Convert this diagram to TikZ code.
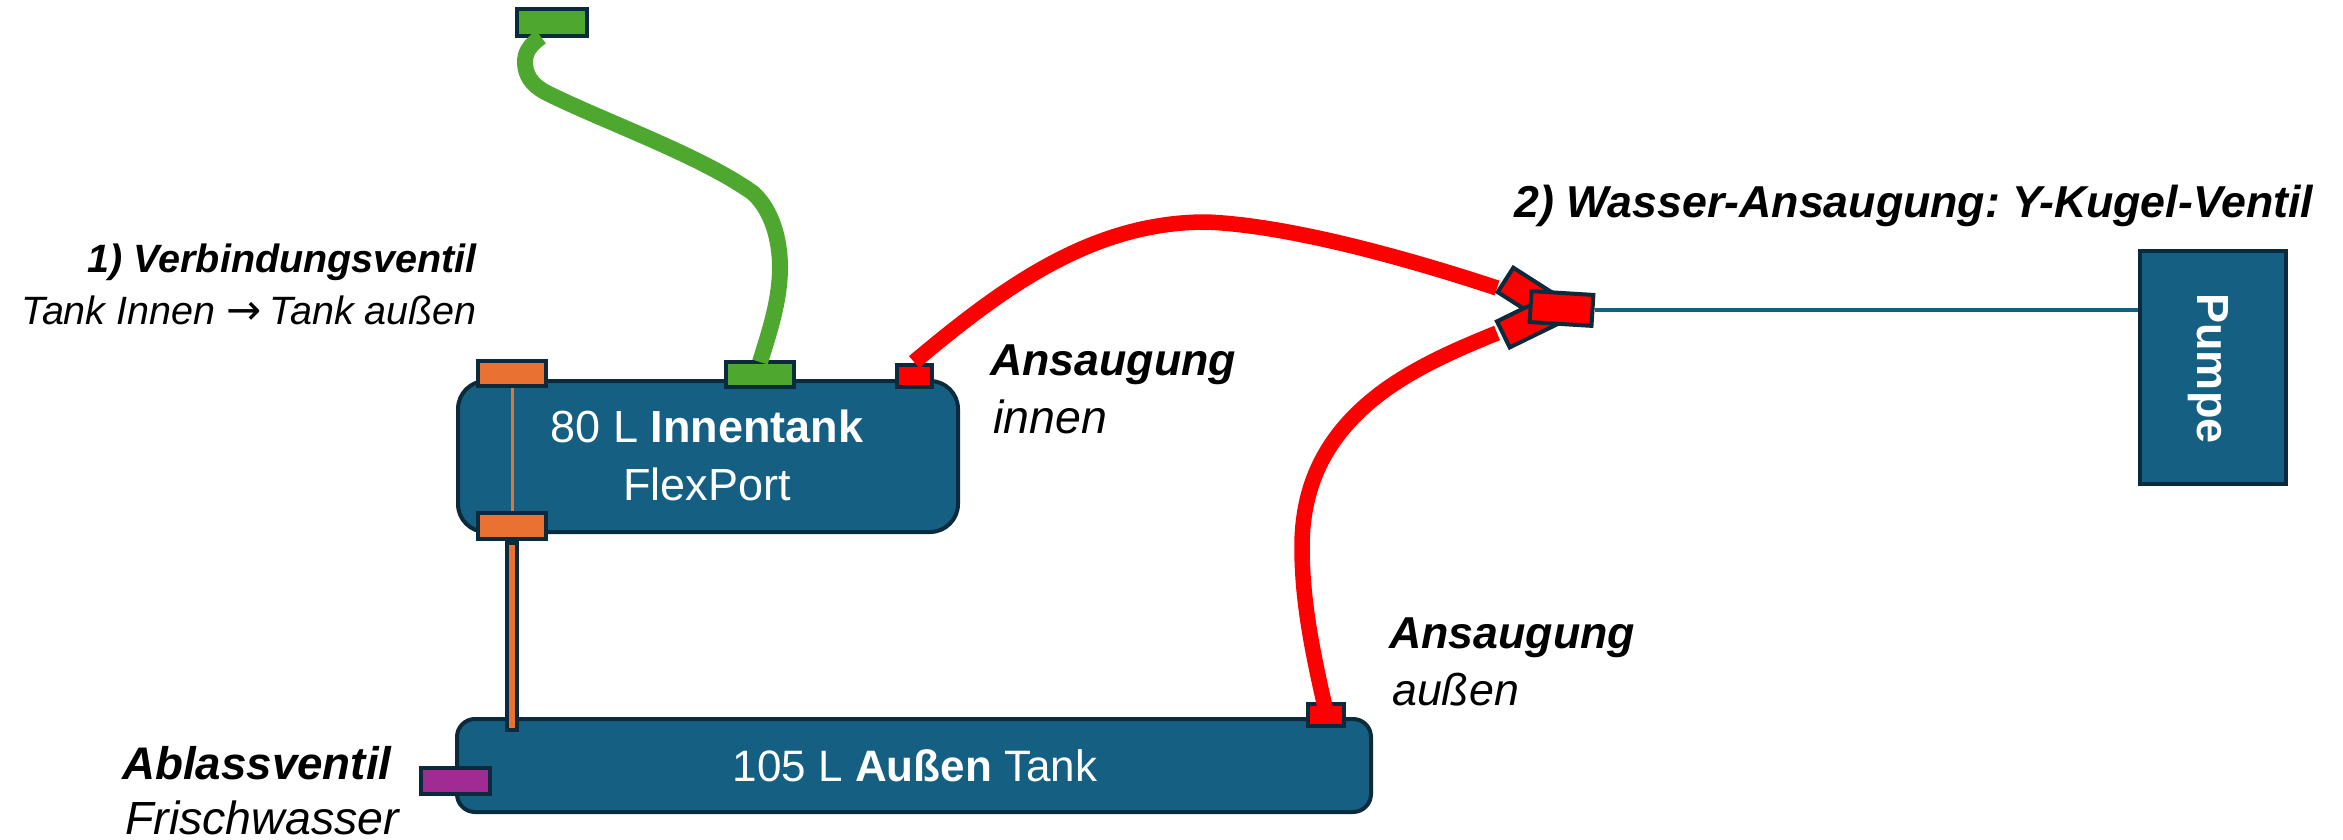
\documentclass[tikz,border=0pt]{standalone}
\usepackage{fontspec}
\setmainfont{Liberation Sans}
\newfontfamily\arrowfont{DejaVu Sans}
\frenchspacing
\usetikzlibrary{shapes.geometric}

\definecolor{tankblue}{HTML}{156082}
\definecolor{rimdark}{HTML}{0B2A3C}
\definecolor{portorange}{HTML}{E97132}
\definecolor{portgreen}{HTML}{4EA72E}
\definecolor{portpurple}{HTML}{A02B93}
\definecolor{portred}{HTML}{FF0000}

\tikzset{
    tank/.style = {draw = rimdark, fill = tankblue, line width = 4pt, inner sep = 0pt, text = white},
    port/.style = {draw = rimdark, line width = 4pt, inner sep = 0pt},
    hose/.style = {line width = #1, line cap = butt},
    label/.style = {inner sep = 0pt, anchor = base west, font = \fontsize{44.7}{45}\selectfont\itshape},
    smalllabel/.style = {label, anchor = base east, font = \fontsize{39.5}{40}\selectfont\itshape},
    widelabel/.style = {label, font = \fontsize{46.5}{47}\selectfont\itshape},
    tanktext/.style = {inner sep = 0pt, anchor = base, text = white, font = \fontsize{45}{45}\selectfont},
}

\begin{document}
\begin{tikzpicture}[x = 1pt, y = -1pt]
    \useasboundingbox (0,0) rectangle (2343,840);

    % tanks
    \node[tank, rounded corners = 28pt, minimum width = 500pt, minimum height = 151pt] (inner) at (708,456.5) {};
    \node[tank, rounded corners = 18pt, minimum width = 914pt, minimum height = 93pt] (outer) at (914,765.5) {};
    \node[tank, minimum width = 146pt, minimum height = 233pt] (pumpe) at (2212.5,367.5) {};

    \node[rotate = -90, anchor = base, text = white, inner sep = 0pt, font = \fontsize{45}{45}\selectfont\bfseries] (tpumpe) at (2197,368.5) {Pumpe};

    % ports
    \node[port, fill = portgreen, minimum width = 70pt, minimum height = 27pt] (greentop) at (552,22.5) {};
    \node[port, fill = portgreen, minimum width = 68pt, minimum height = 25pt] (greentank) at (760,374.5) {};
    \node[port, fill = portorange, minimum width = 68pt, minimum height = 25pt] (orangetop) at (512,373.5) {};
    \node[port, fill = portorange, minimum width = 68pt, minimum height = 26pt] (orangelow) at (512,526) {};
    \node[port, fill = portred, minimum width = 35pt, minimum height = 22pt] (redinner) at (914.5,376) {};
    \node[port, fill = portred, minimum width = 36pt, minimum height = 22pt] (redouter) at (1326,714.5) {};
    \node[port, fill = portpurple, minimum width = 69pt, minimum height = 26pt] (purple) at (455.5,781) {};

    % drain pipe between the tanks
    \node[port, fill = portorange, minimum width = 10pt, minimum height = 187pt] (rohr) at (512,636.5) {};
    \draw[portorange, line width = 3pt] (orangetop.south) -- (orangelow.north);

    % hoses
    \coordinate (gruenstart) at (541,37);
    \coordinate (gruenend) at (760,362);
    \draw[hose = 16pt, portgreen] (gruenstart)
        .. controls (530,45) and (525,52) .. (525,62)
        .. controls (525,75) and (532,85) .. (545,92)
        .. controls (600,120) and (700,155) .. (753,193)
        .. controls (772,210) and (780,240) .. (780,267)
        .. controls (780,300) and (770,330) .. (gruenend);

    \coordinate (innenstart) at (914,362);
    \coordinate (innenend) at (1497,288);
    \coordinate (aussenstart) at (1325,707);
    \coordinate (aussenend) at (1497,333);
    \draw[hose = 15.5pt, portred] (innenstart)
        .. controls (1000,290) and (1090,222) .. (1206,222)
        .. controls (1285,225) and (1400,256) .. (innenend);
    \draw[hose = 15.5pt, portred] (aussenstart)
        .. controls (1312,650) and (1302,600) .. (1302,547)
        .. controls (1302,480) and (1330,430) .. (1385,390)
        .. controls (1420,365) and (1460,348) .. (aussenend);

    % Y valve
    \draw[tankblue, line width = 3.5pt] (pumpe.west |- 0,310) -- (1595,310);
    \node[port, fill = portred, rotate = -32.6, minimum width = 62pt, minimum height = 29pt] (yoben) at (1531.6,296.6) {};
    \node[port, fill = portred, rotate = 26, minimum width = 62pt, minimum height = 29pt] (yunten) at (1531.2,320.8) {};
    \node[port, fill = portred, rotate = -3.5, minimum width = 62pt, minimum height = 31pt] (ymitte) at (1561.5,308.5) {};

    % tank texts
    \node[tanktext] (t80) at (707,442) {80 L \textbf{Innentank}};
    \node[tanktext] (tflex) at (707,500) {FlexPort};
    \node[tanktext, font = \fontsize{44}{44}\selectfont] (t105) at (915,781) {105 L \textbf{Außen} Tank};

    % labels
    \node[smalllabel] (l1) at (477,272) {\textbf{1) Verbindungsventil}};
    \node[smalllabel] (l1b) at (477,324) {Tank Innen {\arrowfont\upshape\fontsize{42}{42}\selectfont →}\hspace{8pt}Tank außen};
    \node[label] (l2) at (1514,217) {\textbf{2) Wasser-Ansaugung: Y-Kugel-Ventil}};
    \node[label] (l3) at (990,375) {\textbf{Ansaugung}};
    \node[widelabel] (l3b) at (993,433) {innen};
    \node[label] (l4) at (1389,648) {\textbf{Ansaugung}};
    \node[label] (l4b) at (1392,705) {außen};
    \node[label, font = \fontsize{45.7}{46}\selectfont\itshape] (l5) at (122,779) {\textbf{Ablassventil}};
    \node[widelabel] (l5b) at (125,834) {Frischwasser};
\end{tikzpicture}
\end{document}
